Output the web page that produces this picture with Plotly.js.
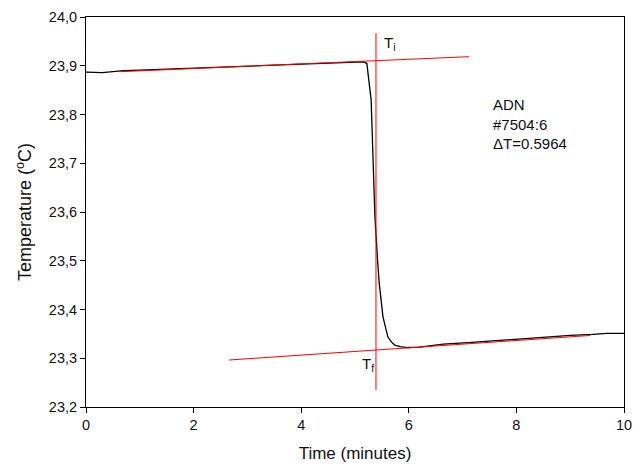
<!DOCTYPE html>
<html>
<head>
<meta charset="utf-8">
<script src="https://cdn.plot.ly/plotly-3.0.1.min.js"></script>
<style>html,body{margin:0;padding:0;background:#fff;}#chart{width:633px;height:468px;}</style>
</head>
<body>
<div id="chart"></div>
<script>
// Measured temperature trace
const timeMin = [0, 0.1, 0.3, 0.5, 0.7, 1.0, 1.5, 2.0, 2.5, 3.0, 3.5, 4.0, 4.5, 5.0, 5.15, 5.22, 5.26, 5.30, 5.33, 5.37, 5.42, 5.45, 5.52, 5.61, 5.68, 5.74, 5.84, 5.98, 6.2, 6.64, 7.1, 7.57, 8.0, 8.49, 9.0, 9.42, 9.68, 10.0];
const tempC   = [23.887, 23.887, 23.886, 23.888, 23.890, 23.891, 23.893, 23.894, 23.896, 23.898, 23.900, 23.902, 23.904, 23.907, 23.908, 23.905, 23.871, 23.830, 23.727, 23.590, 23.500, 23.454, 23.385, 23.344, 23.333, 23.327, 23.324, 23.322, 23.323, 23.329, 23.332, 23.336, 23.340, 23.344, 23.347, 23.349, 23.351, 23.351];

// Fitted baselines and extrapolation lines
const preFitX  = [0.63, 7.12];
const preFitY  = [23.8878, 23.9186];
const postFitX = [2.66, 9.37];
const postFitY = [23.2964, 23.3467];
const midX     = [5.39, 5.39];
const midY     = [23.235, 23.967];

// Labels
const infoText = "ADN<br>#7504:6<br>\u0394T=0.5964";
const xTicks = [0, 2, 4, 6, 8, 10];
const yTicks = [23.2, 23.3, 23.4, 23.5, 23.6, 23.7, 23.8, 23.9, 24.0];

const fontFam = '"Liberation Sans", Arial, sans-serif';
const txtCol = '#111';

const traces = [
  {x: timeMin, y: tempC, mode: 'lines', line: {color: '#000', width: 1.3}, hoverinfo: 'skip'},
  {x: preFitX, y: preFitY, mode: 'lines', line: {color: '#ff0000', width: 1}, hoverinfo: 'skip'},
  {x: postFitX, y: postFitY, mode: 'lines', line: {color: '#ff0000', width: 1}, hoverinfo: 'skip'},
  {x: midX, y: midY, mode: 'lines', line: {color: '#ff0000', width: 1}, hoverinfo: 'skip'}
];

const axisCommon = {
  showline: true, mirror: true, linecolor: '#000', linewidth: 1,
  ticks: 'outside', ticklen: 5, tickcolor: '#000', tickwidth: 1,
  showgrid: false, zeroline: false,
  tickfont: {family: fontFam, size: 14.5, color: txtCol}
};

const layout = {
  width: 633, height: 468,
  margin: {l: 86, r: 9, t: 17, b: 61},
  paper_bgcolor: '#fff', plot_bgcolor: '#fff',
  showlegend: false,
  separators: ',.',
  font: {family: fontFam, color: txtCol},
  xaxis: Object.assign({}, axisCommon, {
    range: [0, 10], tickvals: xTicks, ticktext: xTicks.map(String),
    title: {text: 'Time (minutes)', font: {family: fontFam, size: 17, color: txtCol}, standoff: 14}
  }),
  yaxis: Object.assign({}, axisCommon, {
    range: [23.2, 24.0], tickvals: yTicks, tickformat: '.1f',
    title: {text: 'Temperature (<sup>o</sup>C)', font: {family: fontFam, size: 18, color: txtCol}, standoff: 12}
  }),
  annotations: [
    {x: 7.53, y: 23.843, xref: 'x', yref: 'y', xanchor: 'left', yanchor: 'top', align: 'left',
     text: infoText, showarrow: false, font: {family: fontFam, size: 15, color: txtCol}},
    {x: 5.5, y: 23.945, xref: 'x', yref: 'y', xanchor: 'left', yanchor: 'middle',
     text: 'T<sub>i</sub>', showarrow: false, font: {family: fontFam, size: 15, color: txtCol}},
    {x: 5.1, y: 23.288, xref: 'x', yref: 'y', xanchor: 'left', yanchor: 'middle',
     text: 'T<sub>f</sub>', showarrow: false, font: {family: fontFam, size: 15, color: txtCol}}
  ]
};

Plotly.newPlot('chart', traces, layout, {displayModeBar: false, staticPlot: true});
</script>
</body>
</html>
